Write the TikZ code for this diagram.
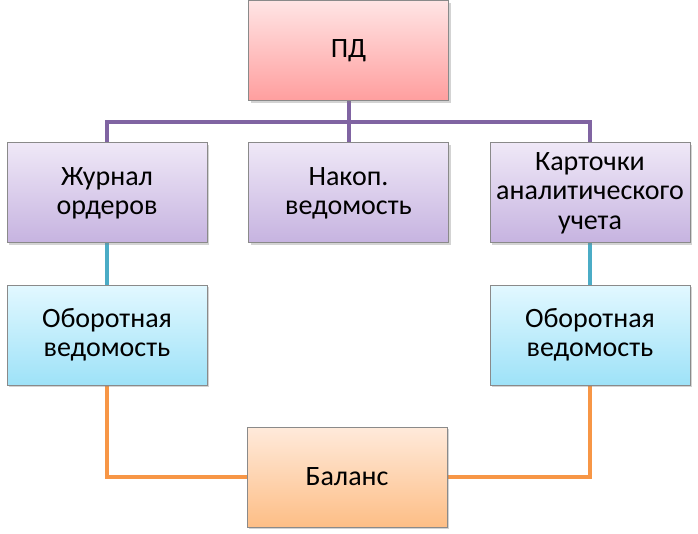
\documentclass[tikz,border=0pt]{standalone}
\usepackage{fontspec}
\setmainfont{Carlito}
\usetikzlibrary{shadows,backgrounds,calc}
\definecolor{pdtop}{HTML}{FFE4E4}
\definecolor{pdbot}{HTML}{FF9E9E}
\definecolor{putop}{HTML}{EFE8F7}
\definecolor{pubot}{HTML}{C6B3E0}
\definecolor{cytop}{HTML}{E2F8FF}
\definecolor{cybot}{HTML}{9EE2F8}
\definecolor{ortop}{HTML}{FFEADB}
\definecolor{orbot}{HTML}{FDBE86}
\definecolor{lpurple}{HTML}{8064A2}
\definecolor{lteal}{HTML}{4BACC6}
\definecolor{lorange}{HTML}{F79646}
\definecolor{bord}{HTML}{8A8A8A}
\tikzset{
  x=0.75pt, y=-0.75pt,
  boxbase/.style={draw=bord, line width=0.75pt, minimum width=150pt, minimum height=75pt,
    inner sep=1pt, align=center, font=\fontsize{21}{22}\selectfont, text=black,
    drop shadow={shadow xshift=1.5pt, shadow yshift=-1.5pt, opacity=0.35}},
  pdbox/.style={boxbase, top color=pdtop, bottom color=pdbot},
  pubox/.style={boxbase, top color=putop, bottom color=pubot},
  cybox/.style={boxbase, top color=cytop, bottom color=cybot},
  orbox/.style={boxbase, top color=ortop, bottom color=orbot},
  conn/.style={line width=3pt},
}
\begin{document}
\begin{tikzpicture}
\useasboundingbox (0,0) rectangle (698,534);
\node[pdbox] (pd) at (348.5,51) {ПД};
\node[pubox] (zh) at (107,193) {Журнал\\ордеров};
\node[pubox] (nak) at (348.5,193) {Накоп.\\ведомость};
\node[pubox] (ka) at (590,193) {Карточки\\аналитического\\учета};
\node[cybox] (ob1) at (107,335) {Оборотная\\ведомость};
\node[cybox] (ob2) at (590,335) {Оборотная\\ведомость};
\node[orbox] (bal) at (347,477) {Баланс};
\coordinate (bus) at ($(pd.south)!0.5!(nak.north)$);
\begin{scope}[on background layer]
\draw[conn, lpurple] (pd.south) -- (nak.north);
\draw[conn, lpurple] (zh.north) |- (bus) -| (ka.north);
\draw[conn, lteal] (zh.south) -- (ob1.north);
\draw[conn, lteal] (ka.south) -- (ob2.north);
\draw[conn, lorange] (ob1.south) |- (bal.west);
\draw[conn, lorange] (ob2.south) |- (bal.east);
\end{scope}
\end{tikzpicture}
\end{document}
